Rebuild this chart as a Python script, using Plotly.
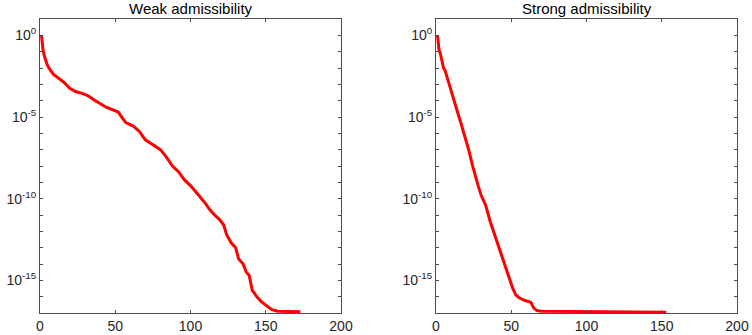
import plotly.graph_objects as go

# weak admissibility: index vs normalised singular value
weak_x = [1, 2, 3, 4, 5, 7, 9, 12, 16, 20, 24, 28, 32, 36, 40, 44, 48, 52, 55, 57,
          62, 66, 70, 75, 80, 84, 88, 92, 96, 100, 103, 106, 110, 113, 116, 119, 122,
          124, 127, 130, 132, 135, 137, 139, 141, 144, 147, 150, 154, 158, 162, 173]
weak_y = [1.0, 1.3e-1, 5.0e-2, 2.5e-2, 1.4e-2, 7.1e-3, 4.0e-3, 2.5e-3, 1.3e-3, 5.6e-4,
          3.5e-4, 2.8e-4, 2.0e-4, 1.1e-4, 6.3e-5, 4.0e-5, 2.8e-5, 2.0e-5, 7.9e-6, 4.5e-6,
          2.8e-6, 1.3e-6, 4.0e-7, 2.0e-7, 1.0e-7, 3.5e-8, 1.0e-8, 4.5e-9, 1.4e-9, 6.3e-10,
          3.2e-10, 1.4e-10, 5.0e-11, 2.0e-11, 1.0e-11, 5.6e-12, 2.5e-12, 6.3e-13, 2.0e-13,
          1.0e-13, 2.0e-14, 1.0e-14, 3.2e-15, 2.0e-15, 2.5e-16, 1.0e-16, 5.0e-17, 3.2e-17,
          1.6e-17, 1.3e-17, 1.25e-17, 1.2e-17]

# strong admissibility
strong_x = [1, 2, 3, 4, 5, 6, 8, 10, 12, 14, 16, 18, 20, 22, 24, 26, 28, 30, 33, 36,
            40, 44, 48, 51, 53, 55, 58, 62, 63, 65, 67, 70, 100, 130, 153]
strong_y = [1.0, 1.3e-1, 7.1e-2, 2.5e-2, 1.0e-2, 7.1e-3, 1.6e-3, 4.0e-4, 1.0e-4, 2.5e-5,
            6.3e-6, 1.6e-6, 3.2e-7, 7.9e-8, 1.3e-8, 2.5e-9, 6.3e-10, 1.6e-10, 4.0e-11,
            4.0e-12, 3.2e-13, 3.2e-14, 2.5e-15, 3.2e-16, 1.3e-16, 8.9e-17, 6.3e-17,
            5.0e-17, 4.5e-17, 2.0e-17, 1.4e-17, 1.3e-17, 1.2e-17, 1.15e-17, 1.1e-17]

titles = ["Weak admissibility", "Strong admissibility"]
x_ticks = [0, 50, 100, 150, 200]
y_ticks = [1.0, 1e-5, 1e-10, 1e-15]
y_text = ["10<sup>0</sup>", "10<sup>-5</sup>", "10<sup>-10</sup>", "10<sup>-15</sup>"]
y_minor = [10.0 ** -k for k in range(-1, 18)]

fig = go.Figure()
fig.add_trace(go.Scatter(x=weak_x, y=weak_y, mode="lines",
                         line=dict(color="#ff0000", width=3), xaxis="x", yaxis="y"))
fig.add_trace(go.Scatter(x=strong_x, y=strong_y, mode="lines",
                         line=dict(color="#ff0000", width=3), xaxis="x2", yaxis="y2"))

axcol = "#4d4d4d"
font = dict(family="Liberation Sans, Arial, sans-serif", size=14, color="#262626")
xdoms = [[40 / 752, 341 / 752], [436 / 752, 737 / 752]]
ydom = [1 - 313 / 335, 1 - 19 / 335]

for i, sfx in enumerate(["", "2"]):
    fig.layout["xaxis" + sfx] = dict(
        domain=xdoms[i], range=[0, 200], tickvals=x_ticks, ticks="inside", ticklen=3,
        tickcolor=axcol, showline=True, linecolor=axcol, linewidth=1, mirror="ticks",
        showgrid=False, zeroline=False, anchor="y" + sfx, tickfont=font)
    fig.layout["yaxis" + sfx] = dict(
        domain=ydom, type="log", range=[-17, 1], tickvals=y_ticks, ticktext=y_text,
        ticks="inside", ticklen=3, tickcolor=axcol, showline=True, linecolor=axcol,
        linewidth=1, mirror="ticks", showgrid=False, zeroline=False,
        minor=dict(tickvals=y_minor, ticks="inside", ticklen=3, tickcolor=axcol, showgrid=False),
        anchor="x" + sfx, tickfont=font)
    fig.add_annotation(text=titles[i], x=sum(xdoms[i]) / 2, y=1 - 9 / 335,
                       xref="paper", yref="paper", xanchor="center", yanchor="middle",
                       showarrow=False,
                       font=dict(family="Liberation Sans, Arial, sans-serif", size=15, color="#000000"))

fig.update_layout(width=752, height=335, margin=dict(l=0, r=0, t=0, b=0, autoexpand=False),
                  plot_bgcolor="white", paper_bgcolor="white", showlegend=False)

fig.write_html("out.html", config={"displayModeBar": False},
               post_script="document.body.style.margin='0';document.body.style.overflow='hidden';")
